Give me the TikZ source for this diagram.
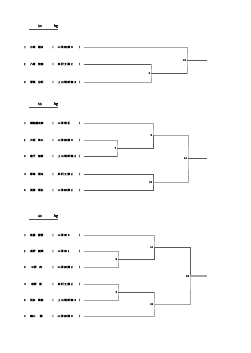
\documentclass[tikz,border=0pt]{standalone}
\usepackage{fontspec}
\setmainfont{Noto Sans CJK JP}
\usepackage{tikz}
\usetikzlibrary{positioning,calc}
\definecolor{brgray}{HTML}{A4A4A4}
\definecolor{brdark}{HTML}{5A5A5A}
\newcommand{\pentry}[3]{\makebox[3mm]{#1}\hspace{2.9mm}\makebox[17.5mm][l]{#2}%
  \makebox[2.1mm][r]{（}\hspace{3.6mm}%
  \makebox[18mm][l]{\addfontfeature{LetterSpace=22}#3}）}

\begin{document}
\begin{tikzpicture}[x=0.84mm,y=-0.84mm,
    entry/.style={anchor=west,inner sep=0pt,
      font=\fontsize{6.3}{7}\selectfont\addfontfeature{FakeBold=0.6}},
    wtitle/.style={inner sep=0pt,font=\fontsize{8}{9}\selectfont\addfontfeature{FakeBold=0.5}},
    mlab/.style={anchor=east,inner sep=0.8pt,
      font=\fontsize{5.8}{6}\selectfont\addfontfeature{FakeBold=0.6}},
    uline/.style={draw=black!70,line width=1.6pt},
    bline/.style={draw=brgray,line width=1.7pt},
    wline/.style={draw=brdark,line width=1.1pt}]

  \useasboundingbox[fill=white] (0,0) rectangle (250,353);

  % 50 kg
  \node[wtitle] (t50) at (40,26) {50};
  \node[wtitle] (k50) at (56,26) {kg};
  \draw[uline] (29,29) -- (58,29);

  \node[entry] (r501) at (23,47) {\pentry{1}{小角　優太}{山形商業３}};
  \node[entry] (r502) at (23,64) {\pentry{2}{八巻　佳樹}{米沢工業２}};
  \node[entry] (r503) at (23,82) {\pentry{3}{菅原　公紀}{上山明新館３}};
  \coordinate (p501) at (84,47);
  \coordinate (p502) at (84,64);
  \coordinate (p503) at (84,82);
  \coordinate (m6) at (151,73);
  \coordinate (m20) at (187,60);
  \coordinate (w50) at (207,60);

  \draw[bline] (p502) -| (m6) |- (p503);
  \draw[bline] (p501) -| (m20) |- (m6);
  \draw[wline] (p502) -- (p502 -| m6);
  \draw[wline] (m6) -- (m6 -| m20);
  \draw[wline] (m20) -- (w50);
  \node[mlab] (l6) at ([xshift=-0.6mm]m6) {6};
  \node[mlab] (l20) at ([xshift=-0.6mm]m20) {20};

  % 55 kg
  \node[wtitle] (t55) at (40,104) {55};
  \node[wtitle] (k55) at (56,104) {kg};
  \draw[uline] (29,107) -- (58,107);

  \node[entry] (r551) at (23,123) {\pentry{1}{樋谷慶太郎}{山形明正}};
  \node[entry] (r552) at (23,140) {\pentry{2}{大沼　隼人}{山形商業３}};
  \node[entry] (r553) at (23,156) {\pentry{3}{金子　遼斯}{上山明新館２}};
  \node[entry] (r554) at (23,174) {\pentry{4}{菊地　翔太}{米沢工業２}};
  \node[entry] (r555) at (23,190) {\pentry{5}{長瀬　翔生}{山形商業２}};
  \coordinate (p551) at (84,123);
  \coordinate (p552) at (84,140);
  \coordinate (p553) at (84,156);
  \coordinate (p554) at (84,174);
  \coordinate (p555) at (84,190);
  \coordinate (m7) at (117,148);
  \coordinate (m8) at (153,135);
  \coordinate (m10) at (153,182);
  \coordinate (m21) at (188,158);
  \coordinate (w55) at (207,158);

  \draw[bline] (p552) -| (m7) |- (p553);
  \draw[bline] (p551) -| (m8) |- (m7);
  \draw[bline] (p554) -| (m10) |- (p555);
  \draw[bline] (m8) -| (m21) |- (m10);
  \draw[wline] (p553) -- (p553 -| m7);
  \draw[wline] (m7) -| (m8);
  \draw[wline] (p554) -| (m10) |- (p555);
  \draw[wline] (m21) -- (w55);
  \node[mlab] (l7) at ([xshift=-0.6mm]m7) {7};
  \node[mlab] (l8) at ([xshift=-0.6mm]m8) {8};
  \node[mlab] (l10) at ([xshift=-0.6mm]m10) {10};
  \node[mlab] (l21) at ([xshift=-0.6mm]m21) {21};

  % 60 kg
  \node[wtitle] (t60) at (40,216) {60};
  \node[wtitle] (k60) at (56,216) {kg};
  \draw[uline] (29,219) -- (58,219);

  \node[entry] (r601) at (23,235) {\pentry{1}{佐藤　慶悟}{山形東３}};
  \node[entry] (r602) at (23,251) {\pentry{2}{長野　雄輝}{山形東１}};
  \node[entry] (r603) at (23,267) {\pentry{3}{\hspace{1mm}中野　茂}{山形商業２}};
  \node[entry] (r604) at (23,284) {\pentry{4}{\hspace{1mm}相野　拓}{米沢工業２}};
  \node[entry] (r605) at (23,300) {\pentry{5}{荒井　政聴}{上山明新館３}};
  \node[entry] (r606) at (23,316) {\pentry{6}{横山　\hspace{1.5mm}謙}{山形商業３}};
  \coordinate (p601) at (84,235);
  \coordinate (p602) at (84,251);
  \coordinate (p603) at (84,267);
  \coordinate (p604) at (84,284);
  \coordinate (p605) at (84,300);
  \coordinate (p606) at (84,316);
  \coordinate (m2) at (118,259);
  \coordinate (m3) at (118,292);
  \coordinate (m11) at (154,247);
  \coordinate (m12) at (154,304);
  \coordinate (m22) at (190,276);
  \coordinate (w60) at (207,276);

  \draw[bline] (p602) -| (m2) |- (p603);
  \draw[bline] (p604) -| (m3) |- (p605);
  \draw[bline] (p601) -| (m11) |- (m2);
  \draw[bline] (m3) -| (m12) |- (p606);
  \draw[bline] (m11) -| (m22) |- (m12);
  \draw[wline] (m2) -| (m11);
  \draw[wline] (m11) -| (m22);
  \draw[wline] (m3) -- (m3 -| m12);
  \draw[bline,line width=2.6pt] (m22) -- (w60);
  \node[mlab] (l2) at ([xshift=-0.6mm]m2) {2};
  \node[mlab] (l3) at ([xshift=-0.6mm]m3) {3};
  \node[mlab] (l11) at ([xshift=-0.6mm]m11) {11};
  \node[mlab] (l12) at ([xshift=-0.6mm]m12) {12};
  \node[mlab] (l22) at ([xshift=-0.6mm]m22) {22};

\end{tikzpicture}
\end{document}
